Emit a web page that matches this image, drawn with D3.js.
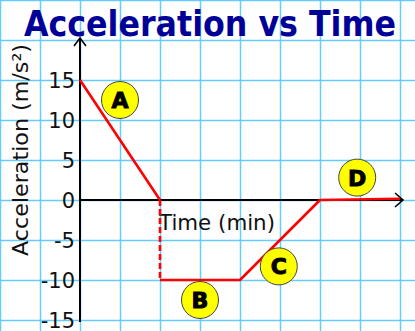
<!DOCTYPE html>
<html><head><meta charset="utf-8">
<script src="https://cdn.jsdelivr.net/npm/d3@7"></script>
<style>body{margin:0;background:#fff}svg{display:block}</style>
</head><body>
<script>
const times = [0, 2, 2, 4, 6, 8];
const accel = [15, 0, -10, -10, 0, 0.15];
const solid = [[0,1],[2,3,4,5]];
const dashedSeg = [1,2];
const yTicks = [15, 10, 5, 0, -5, -10, -15];
const labels = ["A","B","C","D"];
const labelT = [1, 3, 4.97, 6.93];
const labelA = [12.5, -12.5, -8.3, 2.8];

const W = 415, H = 331;
const svg = d3.select("body").append("svg").attr("width", W).attr("height", H);
const x = d3.scaleLinear().domain([0, 8]).range([80, 400]);
const y = d3.scaleLinear().domain([15, -15]).range([80, 320]);

// grid
const gx = d3.range(-2, 11);
const gy = d3.range(-20, 30, 5);
svg.append("g").selectAll("line").data(gx).join("line")
  .attr("x1", d => x(d) + 0.5).attr("x2", d => x(d) + 0.5)
  .attr("y1", 0).attr("y2", H)
  .attr("stroke", "#66ccff").attr("stroke-width", 1.5);
svg.append("g").selectAll("line").data(gy).join("line")
  .attr("y1", d => y(d) + 0.5).attr("y2", d => y(d) + 0.5)
  .attr("x1", 0).attr("x2", W)
  .attr("stroke", "#66ccff").attr("stroke-width", 1.5);

// title
svg.append("text").attr("x", 210).attr("y", 36).attr("text-anchor", "middle")
  .attr("font-family", "DejaVu Sans").attr("font-weight", "bold").attr("font-size", 36)
  .attr("fill", "#000099").attr("textLength", 372).attr("lengthAdjust", "spacingAndGlyphs")
  .text("Acceleration vs Time");

// axes
const axisG = svg.append("g");
axisG.append("line").attr("x1", x(0)).attr("x2", x(0)).attr("y1", 38).attr("y2", 322)
  .attr("stroke", "#000").attr("stroke-width", 2);
axisG.append("line").attr("x1", x(0)).attr("x2", 403).attr("y1", y(0)).attr("y2", y(0))
  .attr("stroke", "#000").attr("stroke-width", 2);
axisG.append("path").attr("d", `M${x(0)-6},${46} L${x(0)},${38} L${x(0)+6},${46}`)
  .attr("fill", "none").attr("stroke", "#000").attr("stroke-width", 1.6);
axisG.append("path").attr("d", `M395,${y(0)-7} L403,${y(0)} L395,${y(0)+7}`)
  .attr("fill", "none").attr("stroke", "#000").attr("stroke-width", 1.6);

// y ticks
svg.append("g").selectAll("text").data(yTicks).join("text")
  .attr("x", 75).attr("y", d => y(d)).attr("dy", "0.36em").attr("text-anchor", "end")
  .attr("font-family", "DejaVu Sans").attr("font-size", 21).attr("fill", "#111")
  .text(d => d);

// axis titles
svg.append("text").attr("transform", "translate(28,150) rotate(-90)").attr("text-anchor", "middle")
  .attr("font-family", "DejaVu Sans").attr("font-size", 21).attr("fill", "#111")
  .attr("textLength", 212).attr("lengthAdjust", "spacingAndGlyphs")
  .text("Acceleration (m/s²)");
svg.append("text").attr("x", 159).attr("y", 230)
  .attr("font-family", "DejaVu Sans").attr("font-size", 22).attr("fill", "#111")
  .attr("textLength", 116).attr("lengthAdjust", "spacingAndGlyphs")
  .text("Time (min)");

// data line
const line = d3.line().x(i => x(times[i])).y(i => y(accel[i]));
svg.append("g").selectAll("path").data(solid).join("path")
  .attr("d", line).attr("fill", "none").attr("stroke", "#ff0000").attr("stroke-width", 2.6)
  .attr("stroke-linejoin", "round");
svg.append("path").attr("d", line(dashedSeg)).attr("fill", "none")
  .attr("stroke", "#ff0000").attr("stroke-width", 2.6).attr("stroke-dasharray", "6,3");

// labels
const lg = svg.append("g").selectAll("g").data(labels).join("g")
  .attr("transform", (d, i) => `translate(${x(labelT[i])},${y(labelA[i])})`);
lg.append("circle").attr("r", 18.5).attr("fill", "#ffff00").attr("stroke", "#444").attr("stroke-width", 1);
lg.append("text").attr("text-anchor", "middle").attr("dy", "0.36em")
  .attr("font-family", "DejaVu Sans").attr("font-weight", "bold").attr("font-size", 22)
  .attr("fill", "#000").attr("stroke", "#000").attr("stroke-width", 1)
  .text(d => d);
</script>
</body></html>
